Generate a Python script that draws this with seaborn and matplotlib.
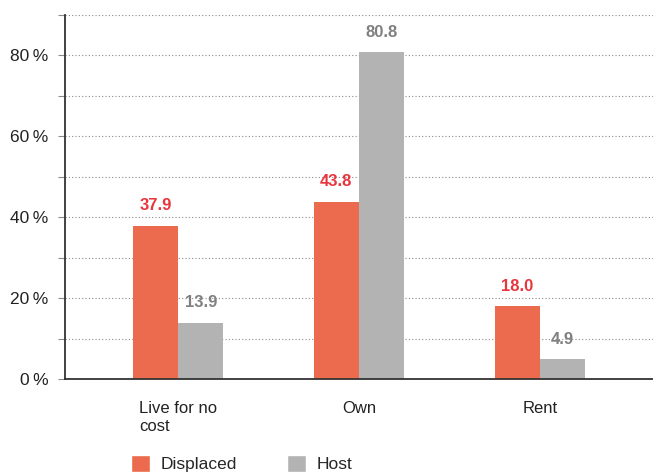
import pandas as pd
import matplotlib
matplotlib.use('Agg')
import matplotlib.pyplot as plt
import seaborn as sns
from matplotlib.ticker import MultipleLocator, FuncFormatter
from matplotlib.patches import Patch

# data
categories = ['Live for no\ncost', 'Own', 'Rent']
groups = ['Displaced', 'Host']
displaced = [37.9, 43.8, 18.0]
host = [13.9, 80.8, 4.9]

colors = {'Displaced': '#EC6A4D', 'Host': '#B3B3B3'}
label_colors = {'Displaced': '#E8363F', 'Host': '#808080'}

df = pd.DataFrame({
    'category': categories * 2,
    'group': ['Displaced'] * 3 + ['Host'] * 3,
    'value': displaced + host,
})

sns.set_theme(style='white')
plt.rcParams['font.family'] = ['Liberation Sans', 'DejaVu Sans']

fig = plt.figure(figsize=(6.53, 4.74), dpi=100)
ax = fig.add_axes([65 / 653, 1 - 379 / 474, 1 - 65 / 653, (379 - 15) / 474])

sns.barplot(data=df, x='category', y='value', hue='group', order=categories,
            hue_order=groups, palette=colors, width=0.5, gap=0, saturation=1,
            linewidth=0, legend=False, ax=ax)

for cont, g in zip(ax.containers, groups):
    ax.bar_label(cont, labels=[f'{v:.1f}' for v in cont.datavalues],
                 padding=9, color=label_colors[g], fontweight='bold', fontsize=12)

ax.set_ylim(0, 90)
ax.set_xlim(-0.625, 2.625)
ax.yaxis.set_major_locator(MultipleLocator(20))
ax.yaxis.set_minor_locator(MultipleLocator(10))
ax.yaxis.set_major_formatter(FuncFormatter(lambda v, p: f'{int(v)}\u2009%'))
ax.grid(axis='y', which='both', color='#8a8a8a', linestyle=(0, (1, 2)), linewidth=0.8)
ax.set_axisbelow(True)

ax.tick_params(axis='y', which='both', length=5, color='#8a8a8a', width=0.8,
               labelsize=12.5, pad=7, labelcolor='#222222', left=True)
ax.tick_params(axis='x', length=0, pad=16, labelsize=12, labelcolor='#222222')
for t in ax.get_xticklabels():
    t.set_multialignment('left')

ax.set_xlabel('')
ax.set_ylabel('')
for s in ['top', 'right']:
    ax.spines[s].set_visible(False)
for s in ['left', 'bottom']:
    ax.spines[s].set_color('#333333')
    ax.spines[s].set_linewidth(1.3)

# legend sits at the very bottom edge, as in the reference
handles = [Patch(facecolor=colors[g], label=g) for g in groups]
fig.legend(handles=handles, loc='upper left', bbox_to_anchor=(131 / 653, 1 - 455 / 474),
           ncol=2, frameon=False, fontsize=12.5, handlelength=1.1, handleheight=1.1,
           columnspacing=2.9, handletextpad=0.6, borderaxespad=0, borderpad=0)

fig.savefig('out.png', dpi=100)
